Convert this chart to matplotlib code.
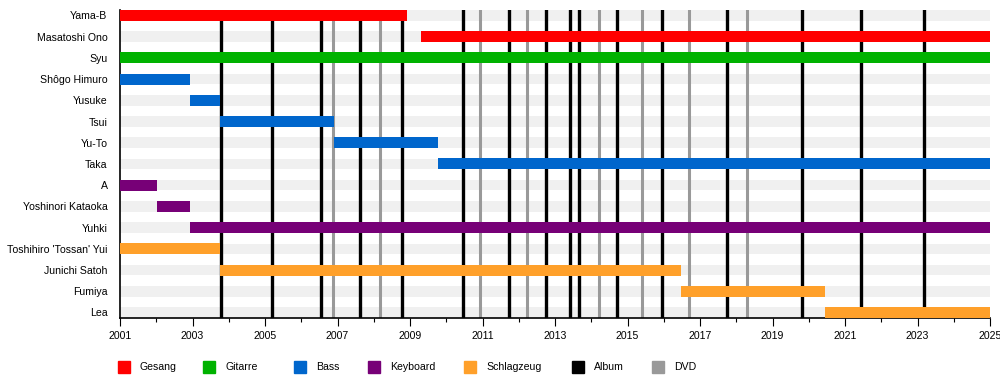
import matplotlib
matplotlib.use('Agg')
import matplotlib.pyplot as plt
from matplotlib.patches import Rectangle

plt.rcParams['font.family'] = ['Liberation Sans', 'DejaVu Sans']

MEMBERS = ['Yama-B', 'Masatoshi Ono', 'Syu', 'Shôgo Himuro', 'Yusuke', 'Tsui', 'Yu-To',
           'Taka', 'A', 'Yoshinori Kataoka', 'Yuhki', "Toshihiro 'Tossan' Yui",
           'Junichi Satoh', 'Fumiya', 'Lea']
ROLES = ['Gesang', 'Gesang', 'Gitarre', 'Bass', 'Bass', 'Bass', 'Bass',
         'Bass', 'Keyboard', 'Keyboard', 'Keyboard', 'Schlagzeug',
         'Schlagzeug', 'Schlagzeug', 'Schlagzeug']
START = [2001.0, 2009.30, 2001.0, 2001.0, 2002.93, 2003.76, 2006.91,
         2009.76, 2001.0, 2002.01, 2002.93, 2001.0,
         2003.76, 2016.48, 2020.45]
END = [2008.92, 2025.0, 2025.0, 2002.93, 2003.76, 2006.91, 2009.76,
       2025.0, 2002.01, 2002.93, 2025.0, 2003.76,
       2016.48, 2020.45, 2025.0]

ALBUMS = [2003.79, 2005.18, 2006.54, 2007.63, 2008.77, 2010.47, 2011.74, 2012.76,
          2013.41, 2013.67, 2014.72, 2015.94, 2017.74, 2019.81, 2021.45, 2023.17]
DVDS = [2006.88, 2008.18, 2010.94, 2012.24, 2014.22, 2015.39, 2016.69, 2018.30]

LEGEND = ['Gesang', 'Gitarre', 'Bass', 'Keyboard', 'Schlagzeug', 'Album', 'DVD']
COLORS = {'Gesang': '#ff0000', 'Gitarre': '#00b200', 'Bass': '#0066cc',
          'Keyboard': '#770077', 'Schlagzeug': '#ffa02a',
          'Album': '#000000', 'DVD': '#999999'}

fig = plt.figure(figsize=(10, 3.78), dpi=100)
ax = fig.add_axes([0.12, 0.1587, 0.87, 0.815])

n = len(MEMBERS)
rows = list(range(n))

# background stripes
for r in rows:
    ax.barh(r, 24, left=2001, height=0.5, color='#f0f0f0', zorder=1)

for x in DVDS:
    ax.axvline(x, color=COLORS['DVD'], lw=2.2, zorder=2)
for x in ALBUMS:
    ax.axvline(x, color=COLORS['Album'], lw=2.4, zorder=2)

for r, role, s, e in zip(rows, ROLES, START, END):
    ax.barh(r, e - s, left=s, height=0.52, color=COLORS[role], zorder=3)

ax.set_xlim(2001, 2025)
ax.set_ylim(n - 1 + 0.26, -0.26)
ax.set_yticks(rows)
ax.set_yticklabels(MEMBERS)
ax.set_xticks(range(2001, 2026, 2))
ax.set_xticks(range(2002, 2025, 2), minor=True)
ax.tick_params(axis='y', length=0, pad=9, labelsize=7.6)
ax.tick_params(axis='x', which='major', length=6, width=0.8, direction='out', pad=3, labelsize=7.6)
ax.tick_params(axis='x', which='minor', length=3, width=0.8, direction='out')
for side in ['top', 'right']:
    ax.spines[side].set_visible(False)
ax.spines['left'].set_linewidth(1.2)
ax.spines['bottom'].set_linewidth(1.2)

# legend along the bottom
legend_x = [118, 203, 294, 368, 464, 572, 652]
for name, lx in zip(LEGEND, legend_x):
    fig.patches.append(Rectangle((lx / 1000, 1 - 373 / 378), 12 / 1000, 12 / 378,
                                 transform=fig.transFigure, color=COLORS[name]))
    fig.text((lx + 22) / 1000, 1 - 367 / 378, name, fontsize=7.6, va='center', ha='left')

fig.savefig('out.png', dpi=100)
